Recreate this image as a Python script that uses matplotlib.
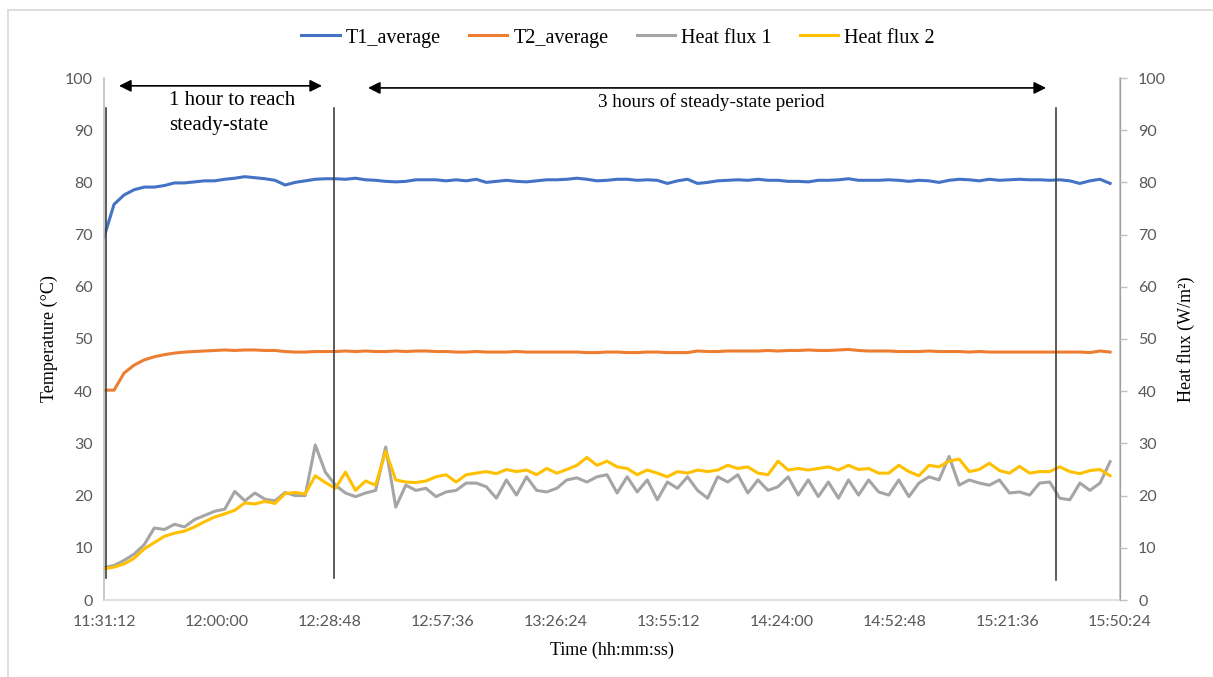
import numpy as np
import matplotlib
matplotlib.use("Agg")
import matplotlib.pyplot as plt
from matplotlib.lines import Line2D

# ---------------- data ----------------
sample_step_s = 154  # seconds between samples (start 11:31:12)

t1_average = [69.5, 75.8, 77.6, 78.6, 79.1, 79.1, 79.4, 79.9, 79.9, 80.1,
              80.3, 80.3, 80.6, 80.8, 81.1, 80.9, 80.7, 80.4, 79.5, 80.0,
              80.3, 80.6, 80.7, 80.7, 80.6, 80.8, 80.5, 80.4, 80.2, 80.1,
              80.2, 80.5, 80.5, 80.5, 80.3, 80.5, 80.3, 80.6, 80.0, 80.2,
              80.4, 80.2, 80.1, 80.3, 80.5, 80.5, 80.6, 80.8, 80.6, 80.3,
              80.4, 80.6, 80.6, 80.4, 80.5, 80.4, 79.8, 80.3, 80.6, 79.8,
              80.0, 80.3, 80.4, 80.5, 80.4, 80.6, 80.4, 80.4, 80.2, 80.2,
              80.1, 80.4, 80.4, 80.5, 80.7, 80.4, 80.4, 80.4, 80.5, 80.4,
              80.2, 80.4, 80.3, 80.0, 80.4, 80.6, 80.5, 80.3, 80.6, 80.4,
              80.5, 80.6, 80.5, 80.5, 80.4, 80.5, 80.3, 79.8, 80.3, 80.6,
              79.8]

t2_average = [40.2, 40.2, 43.5, 45.0, 46.0, 46.6, 47.0, 47.3, 47.5, 47.6,
              47.7, 47.8, 47.9, 47.8, 47.9, 47.9, 47.8, 47.8, 47.6, 47.5,
              47.5, 47.6, 47.6, 47.6, 47.7, 47.6, 47.7, 47.6, 47.6, 47.7,
              47.6, 47.7, 47.7, 47.6, 47.6, 47.5, 47.5, 47.6, 47.5, 47.5,
              47.5, 47.6, 47.5, 47.5, 47.5, 47.5, 47.5, 47.5, 47.4, 47.4,
              47.5, 47.5, 47.4, 47.4, 47.5, 47.5, 47.4, 47.4, 47.4, 47.7,
              47.6, 47.6, 47.7, 47.7, 47.7, 47.7, 47.8, 47.7, 47.8, 47.8,
              47.9, 47.8, 47.8, 47.9, 48.0, 47.8, 47.7, 47.7, 47.7, 47.6,
              47.6, 47.6, 47.7, 47.6, 47.6, 47.6, 47.5, 47.6, 47.5, 47.5,
              47.5, 47.5, 47.5, 47.5, 47.5, 47.5, 47.5, 47.5, 47.4, 47.7,
              47.5]

heat_flux_1 = [6.2, 6.6, 7.6, 8.8, 10.6, 13.8, 13.5, 14.5, 14.0, 15.4,
               16.2, 17.0, 17.4, 20.8, 19.0, 20.5, 19.3, 19.0, 20.6, 20.0,
               20.0, 29.7, 24.5, 22.0, 20.5, 19.8, 20.5, 21.0, 29.3, 17.8,
               22.0, 21.0, 21.4, 19.8, 20.7, 21.0, 22.4, 22.4, 21.7, 19.5,
               23.0, 20.1, 23.6, 21.0, 20.7, 21.4, 23.0, 23.4, 22.6, 23.6,
               24.0, 20.5, 23.6, 20.7, 23.0, 19.2, 22.6, 21.4, 23.6, 21.0,
               19.5, 23.6, 22.6, 24.0, 20.5, 23.0, 21.0, 21.7, 23.6, 20.1,
               23.0, 19.8, 22.6, 19.5, 23.0, 20.1, 23.0, 20.7, 20.1, 23.0,
               19.8, 22.4, 23.6, 23.0, 27.5, 22.0, 23.0, 22.4, 22.0, 23.0,
               20.5, 20.7, 20.1, 22.4, 22.6, 19.5, 19.2, 22.4, 21.0, 22.4,
               26.5]

heat_flux_2 = [6.0, 6.3, 6.9, 8.0, 9.8, 11.0, 12.2, 12.8, 13.2, 14.0,
               15.0, 15.9, 16.5, 17.2, 18.6, 18.4, 18.9, 18.5, 20.4, 20.6,
               20.3, 23.8, 22.5, 21.4, 24.5, 21.0, 22.8, 22.0, 28.5, 23.0,
               22.6, 22.5, 22.8, 23.6, 24.0, 22.6, 24.0, 24.3, 24.6, 24.2,
               25.0, 24.6, 24.9, 24.0, 25.2, 24.3, 25.0, 25.8, 27.3, 25.8,
               26.6, 25.5, 25.2, 24.0, 24.9, 24.3, 23.6, 24.6, 24.3, 24.9,
               24.6, 24.9, 25.8, 25.2, 25.5, 24.3, 24.0, 26.6, 24.9, 25.2,
               24.9, 25.2, 25.5, 24.9, 25.8, 25.0, 25.2, 24.3, 24.3, 25.8,
               24.6, 23.8, 25.8, 25.5, 26.6, 27.0, 24.6, 25.0, 26.2, 24.8,
               24.3, 25.6, 24.3, 24.6, 24.6, 25.5, 24.6, 24.2, 24.8, 25.0,
               23.8]

series_names = ["T1_average", "T2_average", "Heat flux 1", "Heat flux 2"]
time_tick_labels = ["11:31:12", "12:00:00", "12:28:48", "12:57:36", "13:26:24",
                    "13:55:12", "14:24:00", "14:52:48", "15:21:36", "15:50:24"]
tick_step_s = 1728

# ---------------- figure ----------------
W, H = 1213, 677
fig = plt.figure(figsize=(W / 100, H / 100), dpi=100)
fig.patch.set_facecolor("white")

# outer chart border (light gray)
fig.add_artist(Line2D([8 / W, 8 / W], [0, 1 - 10 / H], transform=fig.transFigure,
                      color="#d9d9d9", lw=1.2))
fig.add_artist(Line2D([8 / W, 1], [1 - 10 / H, 1 - 10 / H], transform=fig.transFigure,
                      color="#d9d9d9", lw=1.2))

left, right, bottom, top = 104 / W, 1120 / W, 1 - 600 / H, 1 - 78 / H
ax = fig.add_axes([left, bottom, right - left, top - bottom])
ax2 = ax.twinx()

n = len(t1_average)
t = np.arange(n) * sample_step_s

c_blue, c_orange, c_gray, c_yellow = "#4472C4", "#ED7D31", "#A5A5A5", "#FFC000"
lw = 2.2
l1, = ax.plot(t, t1_average, color=c_blue, lw=lw, solid_joinstyle="round")
l2, = ax.plot(t, t2_average, color=c_orange, lw=lw, solid_joinstyle="round")
l3, = ax2.plot(t, heat_flux_1, color=c_gray, lw=lw, solid_joinstyle="round")
l4, = ax2.plot(t, heat_flux_2, color=c_yellow, lw=lw, solid_joinstyle="round")

xmax = tick_step_s * (len(time_tick_labels) - 1)
for a in (ax, ax2):
    a.set_xlim(0, xmax)
    a.set_ylim(0, 100)
    a.set_yticks(np.arange(0, 101, 10))

ax.set_xticks(np.arange(len(time_tick_labels)) * tick_step_s)
ax.set_xticklabels(time_tick_labels)

lab_color = "#595959"
for lab in ax.get_xticklabels() + ax.get_yticklabels() + ax2.get_yticklabels():
    lab.set_fontfamily("Lato")
    lab.set_fontsize(11.5)
    lab.set_color(lab_color)

ax.tick_params(axis="x", length=0, pad=11)
ax.tick_params(axis="y", length=0, pad=8)
ax2.tick_params(axis="y", length=5, width=1, color="#bfbfbf", pad=8, direction="out")

for a in (ax, ax2):
    a.spines["top"].set_visible(False)
ax.spines["left"].set_color("#bfbfbf")
ax.spines["bottom"].set_color("#d9d9d9")
ax2.spines["right"].set_color("#bfbfbf")
ax2.spines["left"].set_visible(False)
ax2.spines["bottom"].set_visible(False)
for s in ("left", "bottom"):
    ax.spines[s].set_linewidth(1.2)
ax2.spines["right"].set_linewidth(1.2)

serif = "Liberation Serif"
ax.set_xlabel("Time (hh:mm:ss)", family=serif, fontsize=13, labelpad=9)
ax.set_ylabel("Temperature (°C)", family=serif, fontsize=13, labelpad=5)
ax2.set_ylabel("Heat flux (W/m²)", family=serif, fontsize=13, labelpad=8)

# annotation markers (vertical lines and arrows)
for xs, y0, y1 in [(31, 4.2, 94.3), (3521, 4.2, 94.3), (14573, 3.8, 94.3)]:
    ax2.plot([xs, xs], [y0, y1], color="#404040", lw=1.2)

arrow_kw = dict(arrowstyle="<|-|>", color="black", lw=1.2, mutation_scale=18,
                shrinkA=0, shrinkB=0)
ax2.annotate("", xy=(230, 98.5), xytext=(3337, 98.5), arrowprops=arrow_kw)
ax2.annotate("", xy=(4041, 98.1), xytext=(14420, 98.1), arrowprops=arrow_kw)

ax2.text(990, 93.3, "1 hour to reach\nsteady-state", family=serif, fontsize=15,
         ha="left", va="center", linespacing=1.45)
ax2.text(9290, 95.3, "3 hours of steady-state period", family=serif, fontsize=13.8,
         ha="center", va="center")

leg = fig.legend([l1, l2, l3, l4], series_names, loc="center",
                 bbox_to_anchor=(618 / W, 1 - 38 / H), ncol=4, frameon=False,
                 prop=dict(family=serif, size=14.5), handlelength=1.9,
                 handletextpad=0.3, columnspacing=1.4)

fig.savefig("out.png", dpi=100, facecolor="white")
